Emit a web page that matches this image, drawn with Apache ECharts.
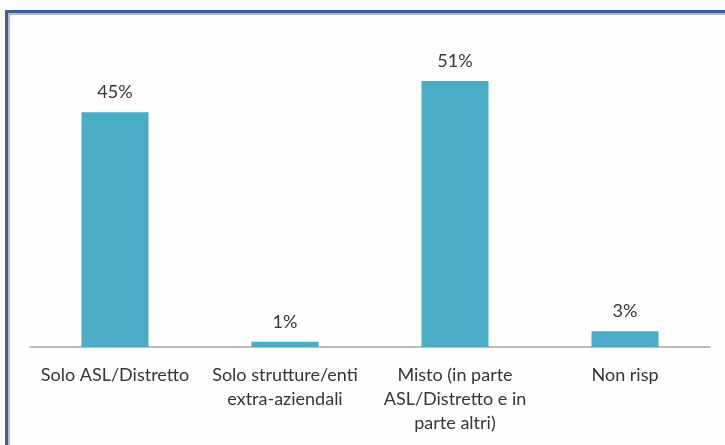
<!DOCTYPE html>
<html>
<head>
<meta charset="utf-8">
<script src="https://cdn.jsdelivr.net/npm/echarts@6/dist/echarts.min.js"></script>
<style>
  html, body { margin: 0; padding: 0; background: #ffffff; }
  #frame {
    position: absolute; left: 5px; top: 10px; width: 740px; height: 450px;
    background: #fdfdfd;
    border-left: 3px solid #3b6098; border-top: 3px solid #3b6098;
    box-shadow: inset 2px 2px 0 #b4bcc6;
  }
  #chart { position: absolute; left: 0; top: 0; width: 725px; height: 445px; }
</style>
</head>
<body>
<div id="frame"></div>
<div id="chart"></div>
<script>
// Share of answers per service type
const categories = [
  'Solo ASL/Distretto',
  'Solo strutture/enti\nextra-aziendali',
  'Misto (in parte\nASL/Distretto e in\nparte altri)',
  'Non risp'
];
const percentages = [45, 1, 51, 3];

const chart = echarts.init(document.getElementById('chart'), null, { renderer: 'canvas' });
chart.setOption({
  backgroundColor: 'transparent',
  animation: false,
  grid: { left: 30, right: 15, top: 34, bottom: 98, containLabel: false },
  xAxis: {
    type: 'category',
    data: categories,
    axisLine: { lineStyle: { color: '#a6a6a6', width: 1.5 } },
    axisTick: { show: false },
    axisLabel: {
      color: '#363636', fontFamily: 'Lato', fontSize: 18,
      lineHeight: 24, margin: 16, interval: 0, align: 'center'
    }
  },
  yAxis: {
    type: 'value', min: 0, max: 60, show: false,
    splitLine: { show: false }
  },
  series: [{
    type: 'bar',
    data: percentages,
    barWidth: 67,
    itemStyle: { color: '#4bacc6' },
    label: {
      show: true, position: 'top', distance: 11,
      formatter: p => p.value + '%',
      color: '#363636', fontFamily: 'Lato', fontSize: 18
    }
  }]
});
</script>
</body>
</html>
